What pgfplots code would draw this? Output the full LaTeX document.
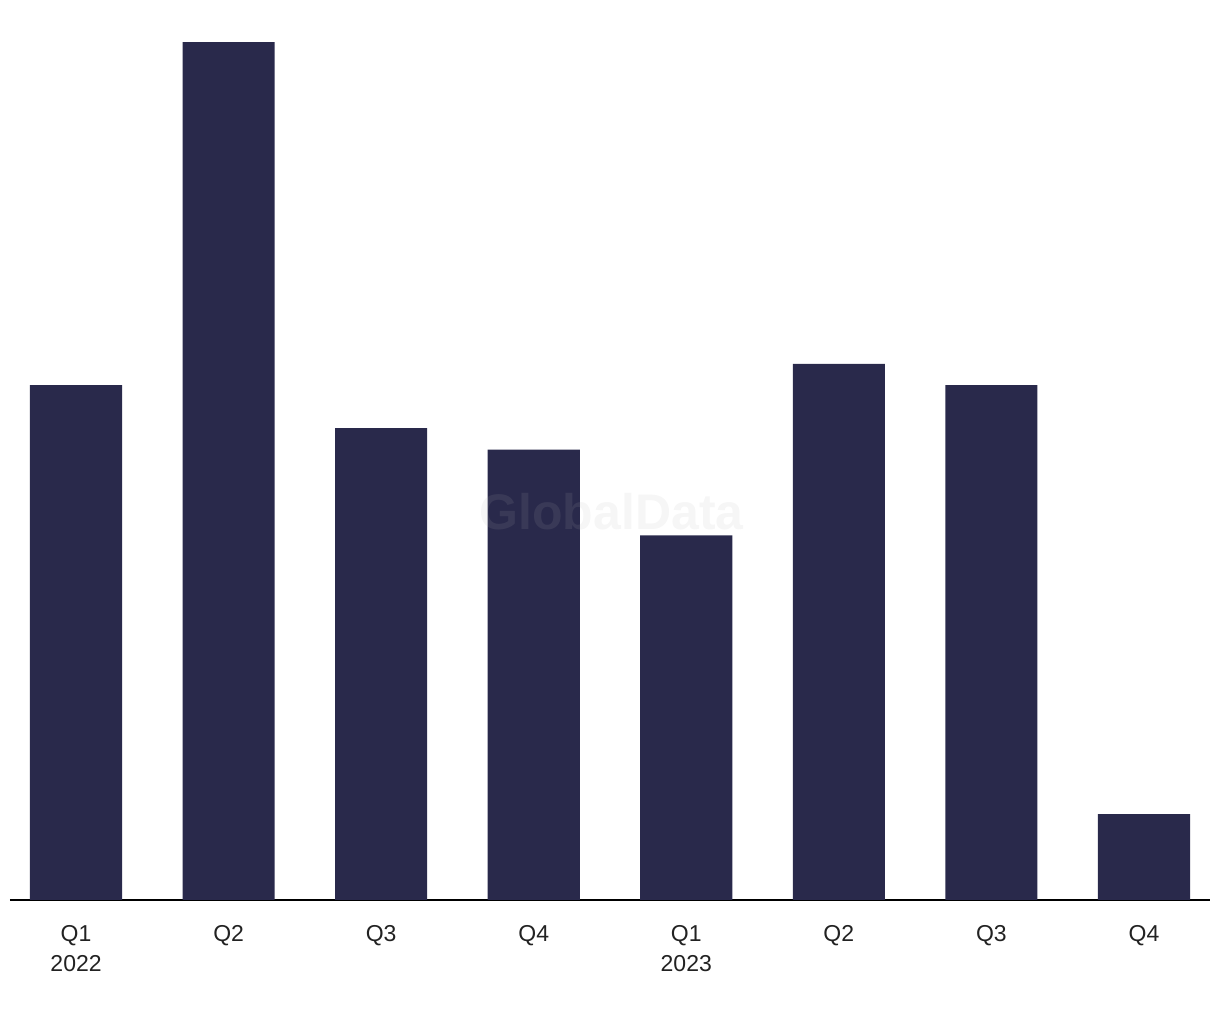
\documentclass[border=0pt]{standalone}
\usepackage{pgfplots}
\pgfplotsset{compat=1.18}
\usepackage{fontspec}
\setmainfont{Liberation Sans}
\definecolor{barcol}{HTML}{29294B}
\definecolor{txt}{HTML}{222222}
\begin{document}
\begin{tikzpicture}
\begin{axis}[
  at={(0,0)}, anchor=south west,
  scale only axis,
  width=600pt, height=440pt,
  xmin=-0.433, xmax=7.433,
  ymin=0, ymax=41.03,
  axis y line=none,
  axis x line*=bottom,
  x axis line style={black, line width=1pt, -},
  xtick={0,1,2,3,4,5,6,7},
  xticklabels={{Q1\\2022},Q2,Q3,Q4,{Q1\\2023},Q2,Q3,Q4},
  xticklabel style={align=center, font=\fontsize{11.5}{15}\selectfont, text=txt, yshift=-9pt},
  major tick length=0pt,
  clip=false,
]
\addplot[ybar, bar width=0.604, fill=barcol, draw=none] coordinates {
  (0,24) (1,40) (2,22) (3,21) (4,17) (5,25) (6,24) (7,4)
};
\node[font=\bfseries\fontsize{25}{28}\selectfont, text=gray!60, opacity=0.12] at (axis cs:3.51,18.09) {GlobalData};
\end{axis}
\useasboundingbox (-5pt,-60pt) rectangle (605pt,450pt);
\end{tikzpicture}
\end{document}
